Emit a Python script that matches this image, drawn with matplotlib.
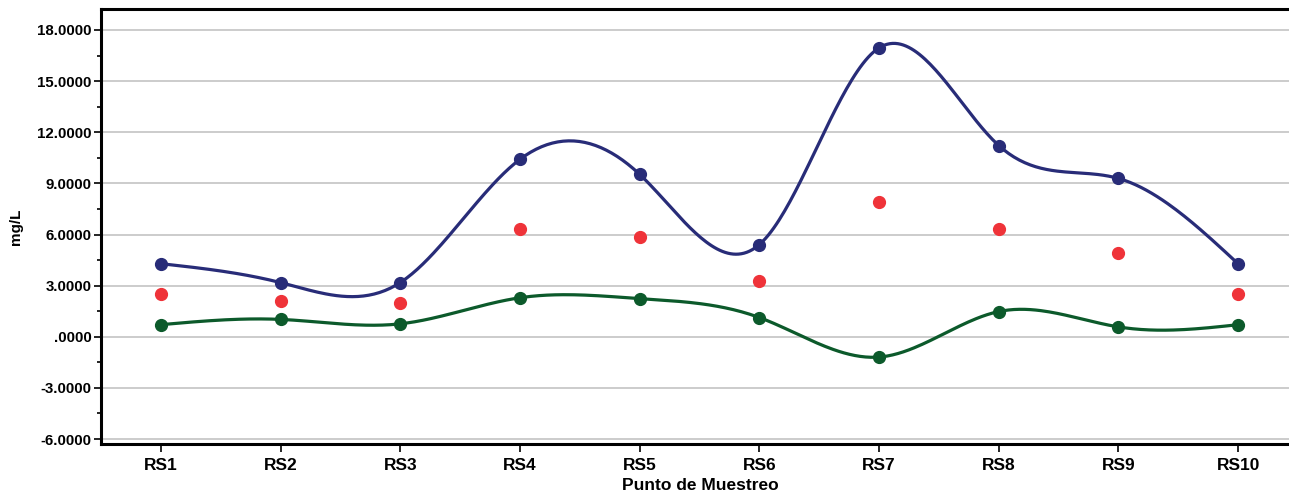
import numpy as np
import matplotlib
matplotlib.use("Agg")
import matplotlib.pyplot as plt
from matplotlib.ticker import FuncFormatter, MultipleLocator

categories = ["RS1", "RS2", "RS3", "RS4", "RS5", "RS6", "RS7", "RS8", "RS9", "RS10"]
upper = [4.29, 3.18, 3.18, 10.41, 9.53, 5.41, 16.95, 11.22, 9.29, 4.28]
mean = [2.49, 2.11, 2.00, 6.35, 5.83, 3.25, 7.88, 6.35, 4.93, 2.50]
lower = [0.71, 1.02, 0.76, 2.29, 2.24, 1.13, -1.19, 1.48, 0.58, 0.71]

plt.rcParams['font.family'] = ['Liberation Sans', 'DejaVu Sans']


def natural_spline(x, y, n=400):
    x = np.asarray(x, float)
    y = np.asarray(y, float)
    m = len(x)
    h = np.diff(x)
    A = np.zeros((m, m))
    b = np.zeros(m)
    A[0, 0] = 1
    A[-1, -1] = 1
    for i in range(1, m - 1):
        A[i, i - 1] = h[i - 1]
        A[i, i] = 2 * (h[i - 1] + h[i])
        A[i, i + 1] = h[i]
        b[i] = 6 * ((y[i + 1] - y[i]) / h[i] - (y[i] - y[i - 1]) / h[i - 1])
    M = np.linalg.solve(A, b)
    xs = np.linspace(x[0], x[-1], n)
    ys = np.empty_like(xs)
    for k, xv in enumerate(xs):
        i = min(np.searchsorted(x, xv, side='right') - 1, m - 2)
        t1 = x[i + 1] - xv
        t0 = xv - x[i]
        hi = h[i]
        ys[k] = (M[i] * t1 ** 3 / (6 * hi) + M[i + 1] * t0 ** 3 / (6 * hi)
                 + (y[i] / hi - M[i] * hi / 6) * t1
                 + (y[i + 1] / hi - M[i + 1] * hi / 6) * t0)
    return xs, ys


fig = plt.figure(figsize=(12.89, 4.94), dpi=100)
ax = fig.add_axes([101 / 1289, 1 - 444 / 494, 1 - 101 / 1289, (444 - 9) / 494])

x = np.arange(1, len(categories) + 1)
navy = '#282c78'
green = '#0c5a2b'
red = '#ef3339'

for vals, col in [(upper, navy), (lower, green)]:
    xs, ys = natural_spline(x, vals)
    ax.plot(xs, ys, color=col, lw=2.3, zorder=3, solid_capstyle='round')
    ax.plot(x, vals, 'o', color=col, ms=8.5, zorder=4)
ax.plot(x, mean, 'o', color=red, ms=8.5, zorder=4, lw=0)

ax.set_xlim(0.5, 0.5 + (1289 - 101) / 119.7)
ax.set_ylim(-6.29, 19.23)
ax.yaxis.set_major_locator(MultipleLocator(3))
ax.yaxis.set_minor_locator(MultipleLocator(1.5))


def fmt(v, pos):
    if abs(v) < 1e-9:
        return ".0000"
    return f"{v:.4f}"


ax.yaxis.set_major_formatter(FuncFormatter(fmt))
ax.set_xticks(x)
ax.set_xticklabels(categories, fontsize=12.5, fontweight='bold')
for lab in ax.get_yticklabels():
    lab.set_fontweight('bold')
    lab.set_fontsize(10.8)

ax.grid(axis='y', which='major', color='#c4c4c4', lw=1.2, zorder=1)
ax.set_axisbelow(True)
for s in ['left', 'bottom', 'top']:
    ax.spines[s].set_linewidth(2.2)
    ax.spines[s].set_color('black')
ax.spines['right'].set_visible(False)
ax.tick_params(axis='y', which='major', length=5, width=1.2, pad=2)
ax.tick_params(axis='y', which='minor', length=3, width=1.2)
ax.tick_params(axis='x', which='major', length=6, width=1.2, pad=4)

ax.set_ylabel("mg/L", fontsize=11, fontweight='bold', labelpad=10)
fig.text(700 / 1289, 1 / 494, "Punto de Muestreo", fontsize=12.5, fontweight='bold',
         ha='center', va='bottom')

fig.savefig("out.png", dpi=100)
